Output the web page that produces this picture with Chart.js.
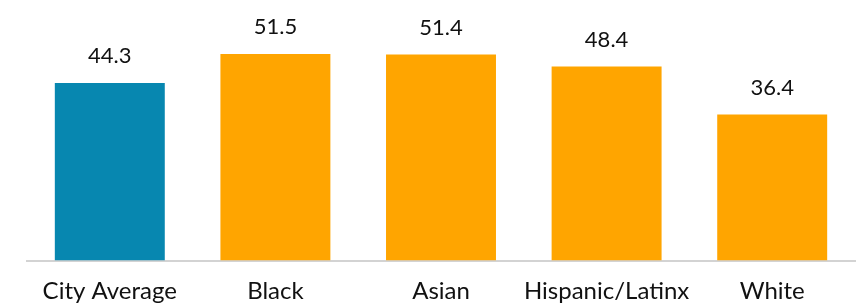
<!DOCTYPE html>
<html><head><meta charset="utf-8">
<script src="https://cdn.jsdelivr.net/npm/chart.js@4"></script>
<style>html,body{margin:0;padding:0;background:#fff;}#wrap{width:859px;height:307px;}</style>
</head><body><div id="wrap"><canvas id="c"></canvas></div>
<script>
const categories = ["City Average", "Black", "Asian", "Hispanic/Latinx", "White"];
const values = [44.3, 51.5, 51.4, 48.4, 36.4];
const barColors = ["#0787b0", "#ffa500", "#ffa500", "#ffa500", "#ffa500"];
const FONT = "Lato, 'DejaVu Sans', sans-serif";

const valueLabels = {
  id: 'valueLabels',
  afterDatasetsDraw(chart) {
    const ctx = chart.ctx;
    const meta = chart.getDatasetMeta(0);
    ctx.save();
    ctx.fillStyle = '#111';
    ctx.font = '22px ' + FONT;
    ctx.textAlign = 'center';
    ctx.textBaseline = 'alphabetic';
    meta.data.forEach((bar, i) => {
      ctx.fillText(values[i].toFixed(1), bar.x, bar.y - 20);
    });
    ctx.restore();
  }
};

new Chart(document.getElementById('c'), {
  type: 'bar',
  data: {
    labels: categories,
    datasets: [{ data: values, backgroundColor: barColors, borderWidth: 0,
      categoryPercentage: 1.0, barPercentage: 0.664 }]
  },
  options: {
    responsive: true, maintainAspectRatio: false, animation: false,
    layout: { padding: { left: 27, right: 4, top: 0, bottom: 0 } },
    plugins: { legend: { display: false }, tooltip: { enabled: false } },
    scales: {
      x: {
        grid: { display: false, drawTicks: false },
        border: { display: true, color: '#d3d3d3', width: 2 },
        ticks: { color: '#111', font: { family: FONT, size: 24 }, padding: 16, maxRotation: 0, autoSkip: false },
        afterFit(scale) { scale.height = 46.5; }
      },
      y: { display: false, min: 0, max: 65 }
    }
  },
  plugins: [valueLabels]
});
</script></body></html>
